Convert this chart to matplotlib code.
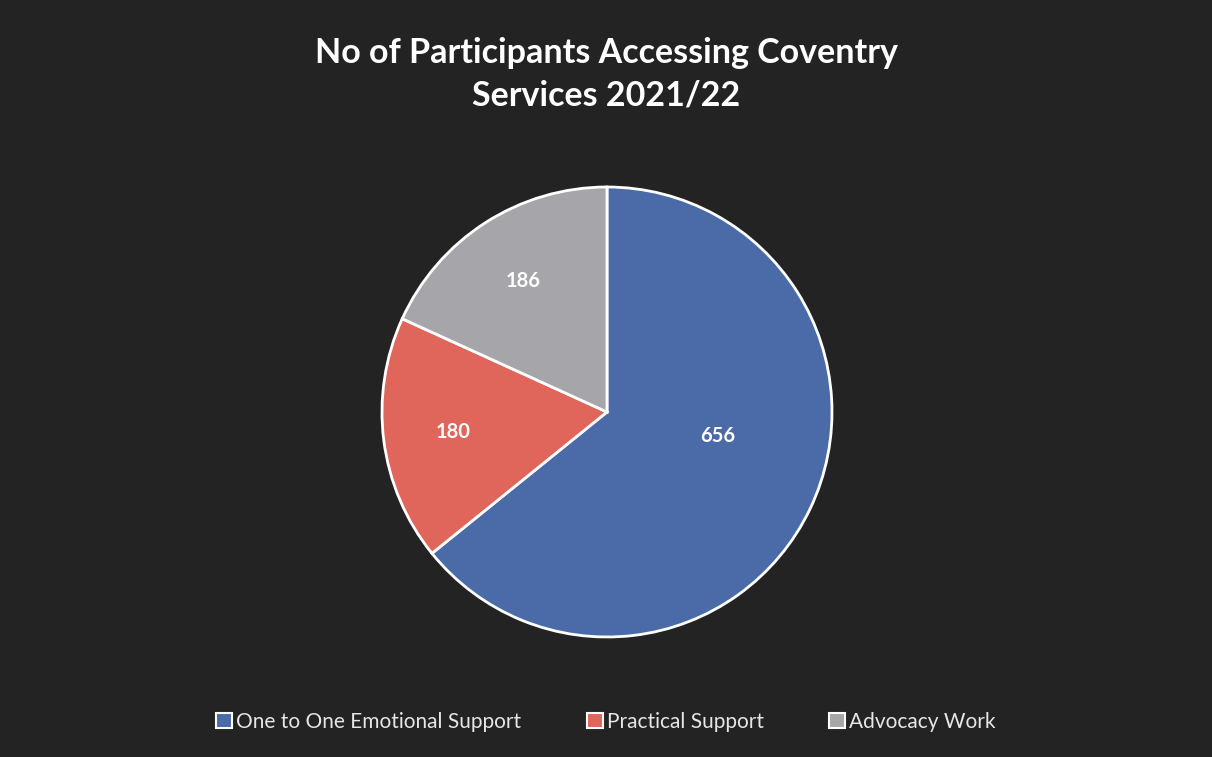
import matplotlib
matplotlib.use("Agg")
import matplotlib.pyplot as plt
import numpy as np

categories = ["One to One Emotional Support", "Practical Support", "Advocacy Work"]
values = [656, 180, 186]
colors = ["#4a6ba8", "#e0655a", "#a6a5aa"]
title = "No of Participants Accessing Coventry\nServices 2021/22"

plt.rcParams['font.family'] = ['Lato', 'DejaVu Sans']
bg = "#232323"

fig = plt.figure(figsize=(12.12, 7.57), dpi=100, facecolor=bg)
W, H = 1212, 757
cx, cy, r = 607, 412, 225
ax = fig.add_axes([(cx - r) / W, (H - cy - r) / H, 2 * r / W, 2 * r / H])
ax.set_facecolor(bg)

wedges, texts, autotexts = ax.pie(
    values, colors=colors, startangle=90, counterclock=False,
    autopct=lambda p: f"{p * sum(values) / 100:.0f}", pctdistance=0.69,
    wedgeprops=dict(edgecolor="white", linewidth=2),
    textprops=dict(color="white", fontsize=14.5, fontweight="bold"))
# Excel-style placement: the large slice label sits closer to the centre
x, y = autotexts[0].get_position()
autotexts[0].set_position((x * 0.785 + 0.005, y * 0.785 + 0.125))
ax.set_aspect("equal")
ax.set_xlim(-1, 1)
ax.set_ylim(-1, 1)

fig.text(0.5, 1 - 74.5 / H, title, ha="center", va="center", color="white",
         fontsize=24.5, fontweight="bold", linespacing=1.42)

handles = [plt.Rectangle((0, 0), 1, 1, facecolor=c, edgecolor="white", linewidth=1.5) for c in colors]
leg = fig.legend(handles, categories, loc="center", bbox_to_anchor=(0.5, 1 - 722 / H),
                 ncol=3, frameon=False, fontsize=15, handlelength=0.75, handleheight=0.75,
                 handletextpad=0.2, columnspacing=3.15, labelcolor="#e6e6e6")

fig.savefig("out.png", dpi=100, facecolor=bg)
